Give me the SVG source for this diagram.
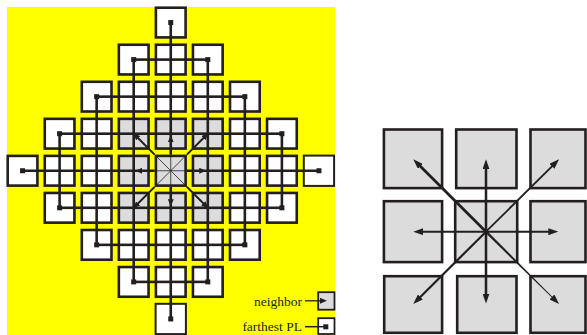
<svg xmlns="http://www.w3.org/2000/svg" width="587" height="335" viewBox="0 0 587 335">
<style>
.c{fill:#ffffff;stroke:#231f20;stroke-width:2.6}
.g{fill:#dcdcdc;stroke:#231f20;stroke-width:2.6}
.t{stroke-width:2}
.m{fill:#231f20}
.k{fill:none;stroke:#231f20;stroke-width:2.6}
.th{fill:none;stroke:#231f20;stroke-width:0.8}
.d{fill:none;stroke:#231f20;stroke-width:2}
.lbl{font-family:"Liberation Serif","Times New Roman",serif;font-size:13.5px;fill:#231f20}
</style>
<defs>
<marker id="a" markerUnits="userSpaceOnUse" markerWidth="7" markerHeight="6" refX="3.5" refY="3" orient="auto"><path d="M0,0 L7,3 L0,6 z" fill="#231f20"/></marker>
<marker id="b" markerUnits="userSpaceOnUse" markerWidth="10" markerHeight="7" refX="5" refY="3.5" orient="auto"><path d="M0,0 L10,3.5 L0,7 z" fill="#231f20"/></marker>
</defs>
<rect x="7" y="7" width="328" height="328" fill="#ffff00"/>
<g id="left-cells">
<g id="r0c4"><rect class="c" x="155.9" y="7.7" width="29.7" height="29.7"/><rect class="m" x="168.25" y="20.05" width="5" height="5"/></g>
<g id="r1c3"><rect class="c" x="118.85" y="44.75" width="29.7" height="29.7"/><rect class="m" x="131.2" y="57.1" width="5" height="5"/></g>
<g id="r1c4"><rect class="c" x="155.9" y="44.75" width="29.7" height="29.7"/></g>
<g id="r1c5"><rect class="c" x="192.95" y="44.75" width="29.7" height="29.7"/><rect class="m" x="205.3" y="57.1" width="5" height="5"/></g>
<g id="r2c2"><rect class="c" x="81.8" y="81.8" width="29.7" height="29.7"/><rect class="m" x="94.15" y="94.15" width="5" height="5"/></g>
<g id="r2c3"><rect class="c" x="118.85" y="81.8" width="29.7" height="29.7"/></g>
<g id="r2c4"><rect class="c" x="155.9" y="81.8" width="29.7" height="29.7"/></g>
<g id="r2c5"><rect class="c" x="192.95" y="81.8" width="29.7" height="29.7"/></g>
<g id="r2c6"><rect class="c" x="230" y="81.8" width="29.7" height="29.7"/><rect class="m" x="242.35" y="94.15" width="5" height="5"/></g>
<g id="r3c1"><rect class="c" x="44.75" y="118.85" width="29.7" height="29.7"/><rect class="m" x="57.1" y="131.2" width="5" height="5"/></g>
<g id="r3c2"><rect class="c" x="81.8" y="118.85" width="29.7" height="29.7"/></g>
<g id="r3c3"><rect class="g" x="118.85" y="118.85" width="29.7" height="29.7"/></g>
<g id="r3c4"><rect class="g" x="155.9" y="118.85" width="29.7" height="29.7"/></g>
<g id="r3c5"><rect class="g" x="192.95" y="118.85" width="29.7" height="29.7"/></g>
<g id="r3c6"><rect class="c" x="230" y="118.85" width="29.7" height="29.7"/></g>
<g id="r3c7"><rect class="c" x="267.05" y="118.85" width="29.7" height="29.7"/><rect class="m" x="279.4" y="131.2" width="5" height="5"/></g>
<g id="r4c0"><rect class="c" x="7.7" y="155.9" width="29.7" height="29.7"/><rect class="m" x="20.05" y="168.25" width="5" height="5"/></g>
<g id="r4c1"><rect class="c" x="44.75" y="155.9" width="29.7" height="29.7"/></g>
<g id="r4c2"><rect class="c" x="81.8" y="155.9" width="29.7" height="29.7"/></g>
<g id="r4c3"><rect class="g" x="118.85" y="155.9" width="29.7" height="29.7"/></g>
<g id="r4c4"><rect class="g" x="155.9" y="155.9" width="29.7" height="29.7"/></g>
<g id="r4c5"><rect class="g" x="192.95" y="155.9" width="29.7" height="29.7"/></g>
<g id="r4c6"><rect class="c" x="230" y="155.9" width="29.7" height="29.7"/></g>
<g id="r4c7"><rect class="c" x="267.05" y="155.9" width="29.7" height="29.7"/></g>
<g id="r4c8"><rect class="c t" x="303.8" y="155.6" width="30.3" height="30.3"/><rect class="m" x="316.45" y="168.25" width="5" height="5"/></g>
<g id="r5c1"><rect class="c" x="44.75" y="192.95" width="29.7" height="29.7"/><rect class="m" x="57.1" y="205.3" width="5" height="5"/></g>
<g id="r5c2"><rect class="c" x="81.8" y="192.95" width="29.7" height="29.7"/></g>
<g id="r5c3"><rect class="g" x="118.85" y="192.95" width="29.7" height="29.7"/></g>
<g id="r5c4"><rect class="g" x="155.9" y="192.95" width="29.7" height="29.7"/></g>
<g id="r5c5"><rect class="g" x="192.95" y="192.95" width="29.7" height="29.7"/></g>
<g id="r5c6"><rect class="c" x="230" y="192.95" width="29.7" height="29.7"/></g>
<g id="r5c7"><rect class="c" x="267.05" y="192.95" width="29.7" height="29.7"/><rect class="m" x="279.4" y="205.3" width="5" height="5"/></g>
<g id="r6c2"><rect class="c" x="81.8" y="230" width="29.7" height="29.7"/><rect class="m" x="94.15" y="242.35" width="5" height="5"/></g>
<g id="r6c3"><rect class="c" x="118.85" y="230" width="29.7" height="29.7"/></g>
<g id="r6c4"><rect class="c" x="155.9" y="230" width="29.7" height="29.7"/></g>
<g id="r6c5"><rect class="c" x="192.95" y="230" width="29.7" height="29.7"/></g>
<g id="r6c6"><rect class="c" x="230" y="230" width="29.7" height="29.7"/><rect class="m" x="242.35" y="242.35" width="5" height="5"/></g>
<g id="r7c3"><rect class="c" x="118.85" y="267.05" width="29.7" height="29.7"/><rect class="m" x="131.2" y="279.4" width="5" height="5"/></g>
<g id="r7c4"><rect class="c" x="155.9" y="267.05" width="29.7" height="29.7"/></g>
<g id="r7c5"><rect class="c" x="192.95" y="267.05" width="29.7" height="29.7"/><rect class="m" x="205.3" y="279.4" width="5" height="5"/></g>
<g id="r8c4"><rect class="c t" x="155.6" y="303.8" width="30.3" height="30.3"/><rect class="m" x="168.25" y="316.45" width="5" height="5"/></g>
</g>
<g id="right-cells">
<g id="n00"><rect class="g" x="383.9" y="129.5" width="58.2" height="58.6"/></g>
<g id="n01"><rect class="g" x="456.2" y="129.5" width="60.3" height="58.6"/></g>
<g id="n02"><rect class="g" x="530.5" y="129.5" width="55" height="58.6"/></g>
<g id="n10"><rect class="g" x="383.9" y="201.2" width="58.2" height="60.9"/></g>
<g id="n11"><rect class="g" x="455.2" y="201.2" width="62" height="60.9"/></g>
<g id="n12"><rect class="g" x="530.5" y="201.2" width="55" height="60.9"/></g>
<g id="n20"><rect class="g" x="384.2" y="276.2" width="57.9" height="56.6"/></g>
<g id="n21"><rect class="g" x="457.2" y="276.2" width="59.3" height="56.6"/></g>
<g id="n22"><rect class="g" x="530.5" y="276.2" width="55" height="56.6"/></g>
</g>
<g id="connectors">
<rect class="k" x="133.7" y="59.6" width="74.1" height="222.3"/>
<rect class="k" x="96.65" y="96.65" width="148.2" height="148.2"/>
<rect class="k" x="59.6" y="133.7" width="222.3" height="74.1"/>
<line class="k" x1="170.75" y1="22.55" x2="170.75" y2="154.6"/>
<line class="k" x1="170.75" y1="186.9" x2="170.75" y2="318.95"/>
<line class="k" x1="22.55" y1="170.75" x2="154.6" y2="170.75"/>
<line class="k" x1="186.9" y1="170.75" x2="318.95" y2="170.75"/>
<line class="th" x1="170.75" y1="170.75" x2="170.75" y2="138.75" marker-end="url(#a)"/>
<line class="th" x1="170.75" y1="170.75" x2="170.75" y2="202.75" marker-end="url(#a)"/>
<line class="th" x1="170.75" y1="170.75" x2="138.75" y2="170.75" marker-end="url(#a)"/>
<line class="th" x1="170.75" y1="170.75" x2="202.75" y2="170.75" marker-end="url(#a)"/>
<line class="th" x1="170.75" y1="170.75" x2="154.6" y2="154.6"/>
<line class="th" x1="170.75" y1="170.75" x2="186.9" y2="154.6"/>
<line class="th" x1="170.75" y1="170.75" x2="154.6" y2="186.9"/>
<line class="th" x1="170.75" y1="170.75" x2="186.9" y2="186.9"/>
<line class="d" x1="154.6" y1="154.6" x2="135.75" y2="135.75" marker-end="url(#a)"/>
<line class="d" x1="186.9" y1="154.6" x2="205.75" y2="135.75" marker-end="url(#a)"/>
<line class="d" x1="154.6" y1="186.9" x2="135.75" y2="205.75" marker-end="url(#a)"/>
<line class="d" x1="186.9" y1="186.9" x2="205.75" y2="205.75" marker-end="url(#a)"/>
<line stroke="#231f20" stroke-width="2.5" x1="486" y1="231.7" x2="486" y2="164.3" marker-end="url(#b)"/>
<line stroke="#231f20" stroke-width="2.5" x1="486" y1="231.7" x2="486" y2="298.5" marker-end="url(#b)"/>
<line stroke="#231f20" stroke-width="2" x1="486" y1="231.7" x2="418.3" y2="231.7" marker-end="url(#b)"/>
<line stroke="#231f20" stroke-width="2" x1="486" y1="231.7" x2="553.3" y2="231.7" marker-end="url(#b)"/>
<line stroke="#231f20" stroke-width="2.8" x1="486" y1="231.7" x2="416.8" y2="162.8" marker-end="url(#b)"/>
<line stroke="#231f20" stroke-width="1.8" x1="486" y1="231.7" x2="555.5" y2="162.8" marker-end="url(#b)"/>
<line stroke="#231f20" stroke-width="2.2" x1="486" y1="231.7" x2="416.8" y2="300.5" marker-end="url(#b)"/>
<polygon fill="#231f20" points="485.1,232.6 486.9,230.8 555.8,300.2 555.2,300.8"/>
<line stroke="none" x1="486" y1="231.7" x2="555.5" y2="300.5" marker-end="url(#b)"/>
</g>
<g id="legend">
<g id="legend-neighbor">
<text class="lbl" x="302" y="306" text-anchor="end">neighbor</text>
<rect fill="#dcdcdc" stroke="#231f20" stroke-width="1.8" x="318.2" y="292.2" width="16.3" height="17.5"/>
<line stroke="#231f20" stroke-width="1.3" x1="305" y1="300.8" x2="323.5" y2="300.8" marker-end="url(#a)"/>
</g>
<g id="legend-farthest">
<text class="lbl" x="302" y="330.5" text-anchor="end">farthest PL</text>
<rect fill="#ffffff" stroke="#231f20" stroke-width="1.8" x="318.2" y="318.2" width="16.3" height="15.8"/>
<line stroke="#231f20" stroke-width="1.5" x1="305" y1="326.7" x2="324" y2="326.7"/>
<rect class="m" x="323.3" y="324.3" width="5" height="5"/>
</g>
</g>
</svg>
